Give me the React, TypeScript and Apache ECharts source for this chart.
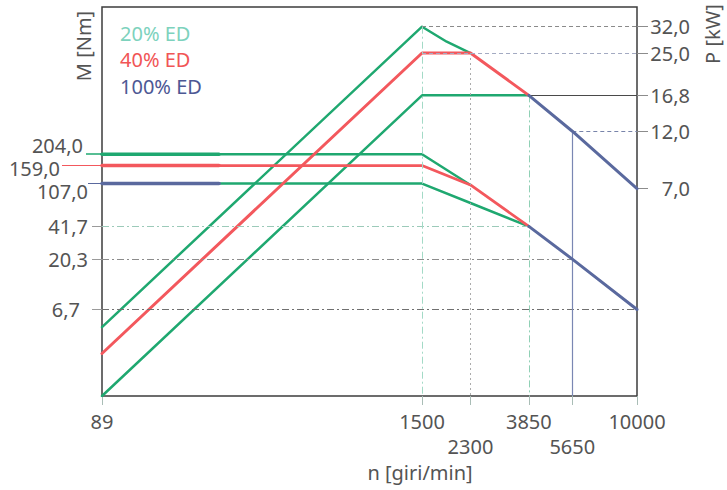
import React, { useEffect, useRef } from 'react';
import * as echarts from 'echarts';

// ---- axis ticks (values shown in the picture) ----
const speedTicks = [89, 1500, 2300, 3850, 5650, 10000];
const torqueTicks = [204, 159, 107, 41.7, 20.3, 6.7];
const powerTicks = [32, 25, 16.8, 12, 7];

// ---- curves: [n (giri/min), M (Nm)] ----
const torque20 = [[89, 204], [250, 204], [1500, 204], [2300, 103.8]];
const torque40 = [[89, 159], [250, 159], [1500, 159], [2300, 103.8], [3850, 41.7]];
const torque100 = [[89, 107], [250, 107], [1500, 107], [2300, 69.8], [3850, 41.7], [5650, 20.3], [10000, 6.7]];

// ---- curves: [n (giri/min), P (kW)] ----
const power20 = [[89, 1.91], [1500, 32], [1865, 27.8], [2300, 25]];
const power40 = [[89, 1.49], [1500, 25], [2300, 25], [3850, 16.8]];
const power100 = [[89, 1.0], [1500, 16.8], [3850, 16.8], [5650, 12], [10000, 7]];

// ---- axis ranges ----
const speedRange = [89, 10000];
const torqueRange = [1, 5200];
const powerRange = [1, 38.5];

const thickEnd = 250;
const blueFrom = 3850;

const lg = Math.log10;
const toLog = (d: number[][]) => d.map(([x, y]) => [lg(x), lg(y)]);
const seg = (d: number[][], a: number, b: number) => toLog(d.filter(([x]) => x >= a && x <= b));
const pick = (ticks: number[], v: number) =>
  ticks.reduce((best, t) => (Math.abs(lg(t) - v) < Math.abs(lg(best) - v) ? t : best), ticks[0]);
const comma = (v: number) => v.toFixed(1).replace('.', ',');

const FONT = 'Noto Sans';
const TXT = '#545454';
const GREEN = '#1fa870';
const RED = '#f3585d';
const BLUE = '#5a699e';

const line = (name: string, data: number[][], yAxisIndex: number, color: string, width: number, z: number) => ({
  type: 'line',
  name,
  data,
  yAxisIndex,
  symbol: 'none',
  silent: true,
  z,
  lineStyle: { color, width, cap: 'round', join: 'round' },
  itemStyle: { color },
  emphasis: { disabled: true },
});

const DASHDOT = [7, 3, 2, 3];
const DASH = [4, 3];

const mk = (a: number[], b: number[], style: any) => [
  { coord: [lg(a[0]), lg(a[1])], lineStyle: style },
  { coord: [lg(b[0]), lg(b[1])] },
];

// one left axis per highlighted torque value (own tick colour / label placement)
const torqueAxis = (
  values: number[],
  tick: { length: number; color: string; width: number; type?: any },
  label: { margin: number; verticalAlign: string; lineHeight: number }
) => ({
  type: 'value',
  min: lg(torqueRange[0]),
  max: lg(torqueRange[1]),
  position: 'left',
  axisLine: { show: false },
  splitLine: { show: false },
  axisTick: {
    show: true,
    customValues: values.map(lg),
    length: tick.length,
    lineStyle: { color: tick.color, width: tick.width, type: tick.type || 'solid' },
  },
  axisLabel: {
    customValues: values.map(lg),
    showMinLabel: true,
    showMaxLabel: true,
    margin: label.margin,
    verticalAlign: label.verticalAlign,
    lineHeight: label.lineHeight,
    fontFamily: FONT,
    fontSize: 20,
    color: TXT,
    formatter: (v: number) => {
      const t = pick(torqueTicks, v);
      return t === 6.7 ? `{p|${comma(t)}}` : comma(t);
    },
    rich: { p: { fontFamily: FONT, fontSize: 20, color: TXT, lineHeight: label.lineHeight, padding: [0, 8, 0, 0] } },
  },
});

const option: any = {
  animation: false,
  backgroundColor: '#ffffff',
  textStyle: { fontFamily: FONT },
  grid: { left: 102, top: 7, width: 535, height: 389, show: true, borderColor: '#3c3c3c', borderWidth: 1.5, backgroundColor: 'transparent' },
  legend: {
    left: 110,
    top: 18,
    orient: 'vertical',
    icon: 'none',
    itemWidth: 0,
    itemHeight: 20,
    itemGap: 6.5,
    selectedMode: false,
    textStyle: { fontFamily: FONT, fontSize: 20 },
    data: [
      { name: '20% ED', textStyle: { color: '#7dd2bd' } },
      { name: '40% ED', textStyle: { color: '#f15556' } },
      { name: '100% ED', textStyle: { color: '#4d5894' } },
    ],
  },
  xAxis: {
    type: 'value',
    min: lg(speedRange[0]),
    max: lg(speedRange[1]),
    axisLine: { show: false },
    splitLine: { show: false },
    axisTick: { show: true, customValues: speedTicks.map(lg), length: 9, lineStyle: { color: '#a9bdb6', width: 1 } },
    axisLabel: {
      customValues: speedTicks.map(lg),
      showMinLabel: true,
      showMaxLabel: true,
      margin: 13,
      lineHeight: 25,
      fontFamily: FONT,
      fontSize: 20,
      color: TXT,
      formatter: (v: number) => {
        const t = pick(speedTicks, v);
        return t === 2300 || t === 5650 ? `\n${t}` : `${t}`;
      },
    },
  },
  yAxis: [
    torqueAxis([41.7, 20.3, 6.7], { length: 10, color: '#9a9a9a', width: 1 }, { margin: 14, verticalAlign: 'middle', lineHeight: 20 }),
    {
      type: 'value',
      min: lg(powerRange[0]),
      max: lg(powerRange[1]),
      position: 'right',
      axisLine: { show: false },
      splitLine: { show: false },
      axisTick: { show: true, customValues: powerTicks.map(lg), length: 11, lineStyle: { color: '#8c8c8c', width: 1 } },
      axisLabel: {
        customValues: powerTicks.map(lg),
        showMinLabel: true,
        showMaxLabel: true,
        margin: 53,
        align: 'right',
        fontFamily: FONT,
        fontSize: 20,
        color: TXT,
        formatter: (v: number) => comma(pick(powerTicks, v)),
      },
    },
    torqueAxis([204], { length: 16, color: GREEN, width: 1.5 }, { margin: 19, verticalAlign: 'bottom', lineHeight: 17 }),
    torqueAxis([159], { length: 40, color: RED, width: 1 }, { margin: 42, verticalAlign: 'top', lineHeight: 6 }),
    torqueAxis([107], { length: 14, color: BLUE, width: 1 }, { margin: 14, verticalAlign: 'top', lineHeight: 16 }),
  ],
  graphic: [
    { type: 'text', x: 83, y: 46, rotation: Math.PI / 2, style: { text: 'M [Nm]', font: `20px "${FONT}"`, fill: TXT, align: 'center', verticalAlign: 'middle' } },
    { type: 'text', x: 712, y: 34, rotation: Math.PI / 2, style: { text: 'P [kW]', font: `20px "${FONT}"`, fill: TXT, align: 'center', verticalAlign: 'middle' } },
    { type: 'text', x: 420, y: 472, style: { text: 'n [giri/min]', font: `20px "${FONT}"`, fill: TXT, align: 'center', verticalAlign: 'middle' } },
  ],
  series: [
    {
      type: 'line',
      name: 'gridM',
      data: [],
      yAxisIndex: 0,
      z: 1,
      silent: true,
      markLine: {
        silent: true,
        symbol: 'none',
        label: { show: false },
        emphasis: { disabled: true },
        data: [
          mk([speedRange[0], 41.7], [3850, 41.7], { color: '#9ccab9', width: 1, type: DASHDOT }),
          mk([speedRange[0], 20.3], [5650, 20.3], { color: '#8c8c8c', width: 1, type: DASHDOT }),
          mk([speedRange[0], 6.7], [speedRange[1], 6.7], { color: '#707070', width: 1, type: DASHDOT }),
        ],
      },
    },
    {
      type: 'line',
      name: 'gridP',
      data: [],
      yAxisIndex: 1,
      z: 1,
      silent: true,
      markLine: {
        silent: true,
        symbol: 'none',
        label: { show: false },
        emphasis: { disabled: true },
        data: [
          mk([1500, 32], [speedRange[1], 32], { color: '#8a8a8a', width: 1, type: DASH }),
          mk([1500, 25], [speedRange[1], 25], { color: '#a3aac2', width: 1, type: DASH }),
          mk([3850, 16.8], [speedRange[1], 16.8], { color: '#4a4a4a', width: 1, type: 'solid' }),
          mk([5650, 12], [speedRange[1], 12], { color: '#7884aa', width: 1, type: DASH }),
          mk([1500, 32], [1500, powerRange[0]], { color: '#a3dac6', width: 1, type: DASHDOT }),
          mk([2300, 25], [2300, powerRange[0]], { color: '#ababab', width: 1, type: [2, 3] }),
          mk([3850, 16.8], [3850, powerRange[0]], { color: '#90d0b5', width: 1, type: DASHDOT }),
          mk([5650, 12], [5650, powerRange[0]], { color: '#7a87b3', width: 1.2, type: 'solid' }),
        ],
      },
    },
    // torque curves
    line('20% ED', seg(torque20, 0, thickEnd), 0, GREEN, 3.5, 3),
    line('20% ED', seg(torque20, thickEnd, Infinity), 0, GREEN, 2.5, 3),
    line('40% ED', seg(torque40, 0, thickEnd), 0, RED, 3.5, 4),
    line('40% ED', seg(torque40, thickEnd, Infinity), 0, RED, 2.8, 4),
    line('100% ED', seg(torque100, 0, thickEnd), 0, BLUE, 3.5, 5),
    line('100% ED', seg(torque100, thickEnd, blueFrom), 0, GREEN, 2.5, 3),
    line('100% ED', seg(torque100, blueFrom, Infinity), 0, BLUE, 3, 5),
    // power curves
    line('20% ED', toLog(power20), 1, GREEN, 2.5, 3),
    line('40% ED', toLog(power40), 1, RED, 3, 4),
    line('100% ED', seg(power100, 0, blueFrom), 1, GREEN, 2.5, 3),
    line('100% ED', seg(power100, blueFrom, Infinity), 1, BLUE, 3, 5),
  ],
};

export default function App() {
  const ref = useRef<HTMLDivElement>(null);
  useEffect(() => {
    if (!ref.current) return;
    const chart = echarts.init(ref.current, null, { renderer: 'svg' });
    chart.setOption(option);
    return () => chart.dispose();
  }, []);
  return (
    <div
      ref={ref}
      style={{ position: 'fixed', left: 0, top: 0, width: 727, height: 490, background: '#ffffff' }}
    />
  );
}
